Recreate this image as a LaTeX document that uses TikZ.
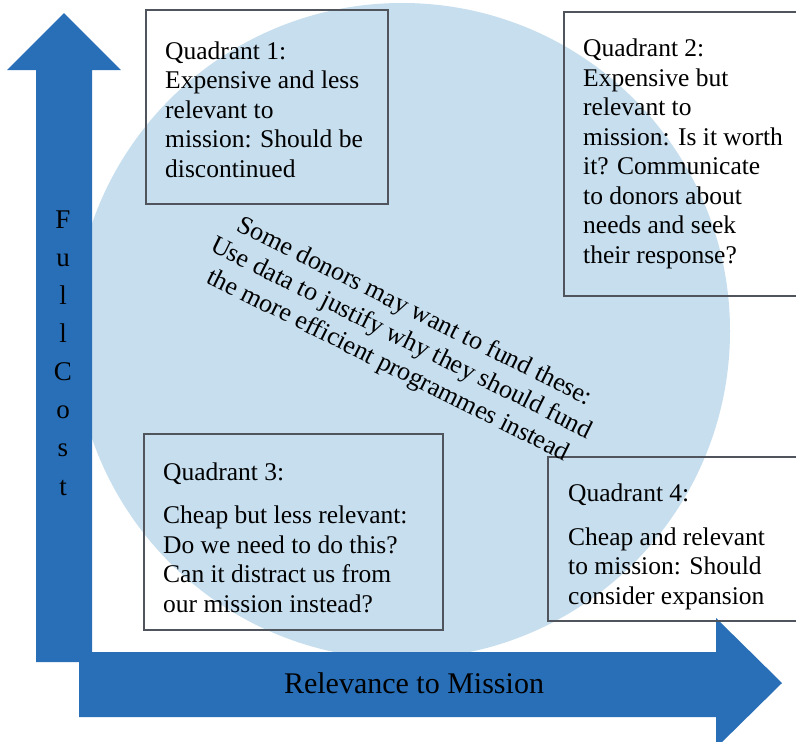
\documentclass[tikz,border=0pt]{standalone}
\usepackage{fontspec}
\setmainfont{Liberation Serif}
\definecolor{arrowblue}{RGB}{40,111,183}
\definecolor{circblue}{RGB}{198,222,238}
\definecolor{boxline}{RGB}{80,84,92}
\begin{document}
\begin{tikzpicture}[x=1pt,y=-1pt,
  qbox/.style={draw=boxline, line width=1.3pt, rectangle, inner sep=0pt},
  qtext/.style={anchor=base west, align=left, inner sep=0pt, font=\fontsize{25.5}{29.5}\selectfont},
  axislabel/.style={inner sep=0pt, font=\fontsize{30}{36}\selectfont}]
\useasboundingbox (0,0) rectangle (796,742);
\clip (0,0) rectangle (796,742);
\fill[white] (0,0) rectangle (796,742);
% circle
\fill[circblue] (402,331) circle (328pt);
% vertical arrow
\fill[arrowblue] (36,662) -- (36,70) -- (7,70) -- (64,13) -- (121,70) -- (92,70) -- (92,662) -- cycle;
% horizontal arrow
\fill[arrowblue] (79,652) -- (716,652) -- (716,618) -- (782,683) -- (716,748) -- (716,717) -- (79,717) -- cycle;
% boxes
\node[qbox, minimum width=242pt, minimum height=194pt] (q1box) at (267,107) {};
\node[qbox, minimum width=236pt, minimum height=284pt] (q2box) at (682,154) {};
\node[qbox, minimum width=299pt, minimum height=196pt] (q3box) at (293.5,532) {};
\node[qbox, minimum width=252pt, minimum height=164pt] (q4box) at (674,539) {};
% texts (base anchor = baseline of last line)
\node[qtext] (q1text) at (165,177) {Quadrant 1:\\Expensive and less\\relevant to\\mission: Should be\\discontinued};
\node[qtext] (q2text) at (583,263) {Quadrant 2:\\Expensive but\\relevant to\\mission: Is it worth\\it? Communicate\\to donors about\\needs and seek\\their response?};
\node[qtext] (q3text) at (163,612) {Quadrant 3:\\[14pt]Cheap but less relevant:\\Do we need to do this?\\Can it distract us from\\our mission instead?};
\node[qtext] (q4text) at (568,604) {Quadrant 4:\\[14.5pt]Cheap and relevant\\to mission: Should\\consider expansion};
\node[rotate=-26.5, align=center, inner sep=0pt, font=\fontsize{26}{30}\selectfont] (donors) at (401,339)
  {Some donors may want to fund these:\\Use data to justify why they should fund\\the more efficient programmes instead};
\node[axislabel, anchor=base] (xlabel) at (414,693) {Relevance to Mission};
\node[anchor=base, align=center, inner sep=0pt, font=\fontsize{27}{38.1}\selectfont] (ylabel) at (63,495) {F\\u\\l\\l\\C\\o\\s\\t};
\end{tikzpicture}
\end{document}
